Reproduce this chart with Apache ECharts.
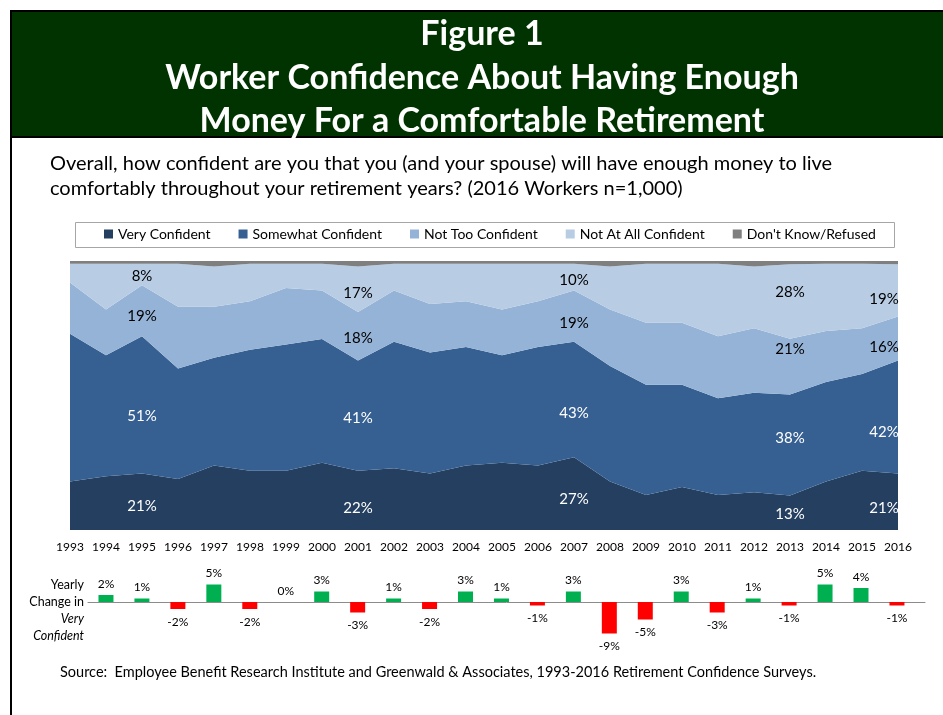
<!DOCTYPE html>
<html>
<head>
<meta charset="utf-8">
<title>Worker Confidence About Having Enough Money</title>
<script src="https://cdn.jsdelivr.net/npm/echarts@6/dist/echarts.min.js"></script>
<style>
  html, body { margin: 0; padding: 0; background: #fff; }
  #chart { width: 943px; height: 715px; }
</style>
</head>
<body>
<div id="chart"></div>
<script>
// Survey years
const years = ['1993', '1994', '1995', '1996', '1997', '1998', '1999', '2000', '2001', '2002', '2003', '2004',
               '2005', '2006', '2007', '2008', '2009', '2010', '2011', '2012', '2013', '2014', '2015', '2016'];

// Shares of workers (%), read from the stacked areas
const veryConfident     = [18, 20, 21, 19, 24, 22, 22, 25, 22, 23, 21, 24, 25, 24, 27, 18, 13, 16, 13, 14, 12.8, 18, 22, 21];
const somewhatConfident = [55, 45, 51, 41, 40, 45, 47, 46, 41, 47, 45, 44, 40, 44, 43, 43, 41, 38, 36, 37, 37.6, 37, 36, 42];
const notTooConfident   = [19, 17, 19, 23, 19, 18, 21, 18, 18, 19, 18, 17, 17, 17, 19, 21, 23, 23, 23, 24, 20.7, 19, 17, 16.4];
const notAtAllConfident = [7, 17, 8, 16, 15, 14, 9, 10, 17, 10, 15, 14, 17, 14, 10, 16, 22, 22, 27, 23, 27.7, 25, 24, 19.4];
const dontKnow          = [1, 1, 1, 1, 2, 1, 1, 1, 2, 1, 1, 1, 1, 1, 1, 2, 1, 1, 1, 2, 1.2, 1, 1, 1.2];

// Yearly change in "Very Confident" (percentage points); 1993 has none
const yearlyChange = [null, 2, 1, -2, 5, -2, 0, 3, -3, 1, -2, 3, 1, -1, 3, -9, -5, 3, -3, 1, -1, 5, 4, -1];

// Years whose values are printed on the areas
const labelYears = ['1995', '2001', '2007', '2013', '2016'];

const chart = echarts.init(document.getElementById('chart'));

// vertical nudge (px) of each printed label, per series / label year, like the hand placed ones
const labelNudge = [
  [4, 8, 5, 1, 6],
  [11, 2, 14, -7, 15],
  [5, 2, 7, -17, 9],
  [2, 4, 3, -9, 9]
];

const seriesDefs = [
  { name: 'Very Confident', data: veryConfident, color: '#253F60', labelColor: '#fff' },
  { name: 'Somewhat Confident', data: somewhatConfident, color: '#366092', labelColor: '#fff' },
  { name: 'Not Too Confident', data: notTooConfident, color: '#95B3D7', labelColor: '#000' },
  { name: 'Not At All Confident', data: notAtAllConfident, color: '#B8CCE4', labelColor: '#000' },
  { name: "Don't Know/Refused", data: dontKnow, color: '#7F7F7F', labelColor: null }
];

// centre of each band at the labelled years
function bandLabels(idx) {
  const def = seriesDefs[idx];
  if (!def.labelColor) return [];
  return labelYears.map(function (y, n) {
    const i = years.indexOf(y);
    let base = 0;
    for (let k = 0; k < idx; k++) base += seriesDefs[k].data[i];
    const v = def.data[i];
    return {
      coord: [i, base + v / 2],
      value: Math.round(v),
      label: { offset: [i === years.length - 1 ? -14 : 0, labelNudge[idx][n]] }
    };
  });
}

const areaSeries = seriesDefs.map(function (def, idx) {
  return {
    name: def.name,
    type: 'line',
    stack: 'total',
    xAxisIndex: 0,
    yAxisIndex: 0,
    data: def.data,
    symbol: 'none',
    lineStyle: { width: 0 },
    areaStyle: { color: def.color, opacity: 1 },
    itemStyle: { color: def.color },
    z: 2,
    markPoint: {
      symbol: 'circle',
      symbolSize: 1,
      itemStyle: { color: 'rgba(0,0,0,0)' },
      label: {
        show: true,
        position: 'inside',
        color: def.labelColor || '#000',
        fontFamily: 'Lato',
        fontSize: 15,
        formatter: function (p) { return p.value + '%'; }
      },
      data: bandLabels(idx)
    }
  };
});

const changeData = years.map(function (y, i) {
  const c = yearlyChange[i];
  if (c === null) return null;
  return {
    value: [Number(y), c],
    itemStyle: { color: c < 0 ? '#FF0000' : '#00B050' },
    label: { position: c < 0 ? 'bottom' : 'top', distance: c < 0 ? 7 : 5 }
  };
}).filter(function (d) { return d !== null; });

// plain text helper for the graphic layer
function txt(x, y, text, opts) {
  return {
    type: 'text',
    z: 5,
    style: Object.assign({
      x: x, y: y, text: text,
      fontFamily: 'Lato', fontSize: 12, fill: '#000',
      align: 'left', verticalAlign: 'middle'
    }, opts || {})
  };
}

const titleFont = { fontSize: 34, fontWeight: 'bold', fill: '#fff', align: 'center' };

chart.setOption({
  animation: false,
  textStyle: { fontFamily: 'Lato' },
  legend: {
    top: 222,
    left: 99,
    itemWidth: 9,
    itemHeight: 9,
    itemGap: 28,
    icon: 'rect',
    textStyle: { fontSize: 14, color: '#000', fontFamily: 'Lato' },
    data: seriesDefs.map(function (d) { return d.name; })
  },
  grid: [
    { left: 70, right: 45, top: 261, bottom: 185 },
    { left: 88, right: 18, top: 581, bottom: 78 }
  ],
  xAxis: [
    {
      gridIndex: 0,
      type: 'category',
      data: years,
      boundaryGap: false,
      axisLine: { show: false },
      axisTick: { show: false },
      axisLabel: { color: '#000', fontSize: 12, margin: 11, interval: 0 }
    },
    {
      gridIndex: 1,
      type: 'value',
      min: 1993.5,
      max: 2016.78,
      axisLine: { show: true, onZero: true, lineStyle: { color: '#8C8C8C', width: 1 } },
      axisTick: { show: false },
      axisLabel: { show: false },
      splitLine: { show: false }
    }
  ],
  yAxis: [
    { gridIndex: 0, type: 'value', min: 0, max: 100, show: false },
    { gridIndex: 1, type: 'value', min: -10, max: 6, show: false }
  ],
  series: areaSeries.concat([{
    name: 'Yearly Change',
    type: 'bar',
    xAxisIndex: 1,
    yAxisIndex: 1,
    barWidth: 15,
    data: changeData,
    label: {
      show: true,
      color: '#000',
      fontSize: 12,
      formatter: function (p) { return p.value[1] + '%'; }
    }
  }]),
  graphic: [
    // title banner
    { type: 'rect', left: 10, top: 10, shape: { width: 933, height: 128 }, style: { fill: '#000' }, z: 0 },
    { type: 'rect', left: 12, top: 12, shape: { width: 931, height: 124 }, style: { fill: '#003300' }, z: 1 },
    { type: 'rect', left: 10, top: 138, shape: { width: 2, height: 577 }, style: { fill: '#000' }, z: 1 },
    txt(482, 34, 'Figure 1', titleFont),
    txt(482, 78, 'Worker Confidence About Having Enough', titleFont),
    txt(482, 121, 'Money For a Comfortable Retirement', titleFont),
    // question
    txt(50, 164, 'Overall, how confident are you that you (and your spouse) will have enough money to live', { fontSize: 20 }),
    txt(50, 189, 'comfortably throughout your retirement years? (2016 Workers n=1,000)', { fontSize: 20 }),
    // legend frame
    { type: 'rect', left: 73, top: 220, shape: { width: 819, height: 25 }, style: { fill: 'none', stroke: '#A6A6A6', lineWidth: 1 } },
    // side caption for change bars
    txt(84, 585, 'Yearly', { align: 'right', fontSize: 12.5 }),
    txt(84, 602, 'Change in', { align: 'right', fontSize: 12.5 }),
    txt(84, 619, 'Very', { align: 'right', fontStyle: 'italic', fontSize: 12.5 }),
    txt(84, 636, 'Confident', { align: 'right', fontStyle: 'italic', fontSize: 12.5 }),
    // source
    txt(60, 672, 'Source:  Employee Benefit Research Institute and Greenwald & Associates, 1993-2016 Retirement Confidence Surveys.', { fontSize: 14.5 })
  ]
});
</script>
</body>
</html>
